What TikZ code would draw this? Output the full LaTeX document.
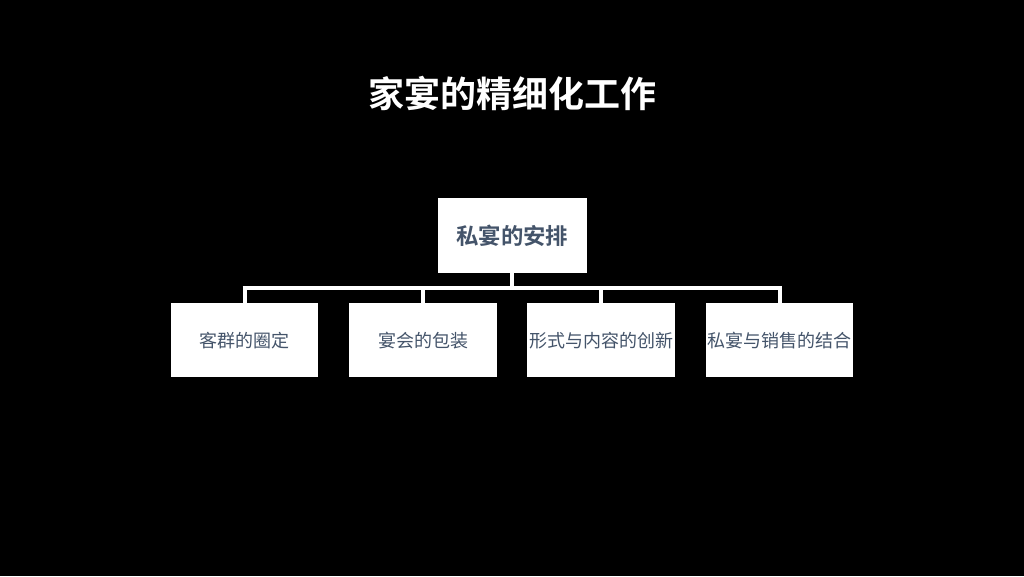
\documentclass[tikz,border=0pt]{standalone}
\usepackage{fontspec}
\newfontfamily\cjk{Noto Sans CJK SC}
\newfontfamily\cjkb{Noto Sans CJK SC Bold}
\begin{document}
\begin{tikzpicture}[x=1pt,y=-1pt,
  box/.style={draw=none,fill=white,inner sep=0pt,anchor=north west},
  conn/.style={draw=white,line width=4pt},
  txt/.style={text=tcol}]
\definecolor{tcol}{HTML}{44546A}
\fill[black] (0,0) rectangle (1024,576);
\useasboundingbox (0,0) rectangle (1024,576);
\node (title) at (512,93) {\cjkb\fontsize{36}{42}\selectfont\color{white}家宴的精细化工作};
\node[box,minimum width=149pt,minimum height=75pt] (top) at (437.5,198) {};
\node[txt] at (top.center) {\cjkb\fontsize{22.4}{27}\selectfont 私宴的安排};
\node[box,minimum width=147pt,minimum height=74pt] (c1) at (171,303) {};
\node[box,minimum width=148pt,minimum height=74pt] (c2) at (349,303) {};
\node[box,minimum width=148pt,minimum height=74pt] (c3) at (527,303) {};
\node[box,minimum width=147pt,minimum height=74pt] (c4) at (706,303) {};
\node[txt] (t1) at (c1.center) {\cjk\fontsize{18}{22}\selectfont 客群的圈定};
\node[txt] (t2) at (c2.center) {\cjk\fontsize{18}{22}\selectfont 宴会的包装};
\node[txt] (t3) at (c3.center) {\cjk\fontsize{18}{22}\selectfont 形式与内容的创新};
\node[txt] (t4) at (c4.center) {\cjk\fontsize{18}{22}\selectfont 私宴与销售的结合};
\coordinate (j) at (512,288);
\draw[conn] (top.south) -- (top.south |- j);
\draw[conn] ([xshift=-2pt]j -| c1.north) -- ([xshift=2pt]j -| c4.north);
\foreach \c in {c1,c2,c3,c4} \draw[conn] (j -| \c.north) -- (\c.north);
\end{tikzpicture}
\end{document}
